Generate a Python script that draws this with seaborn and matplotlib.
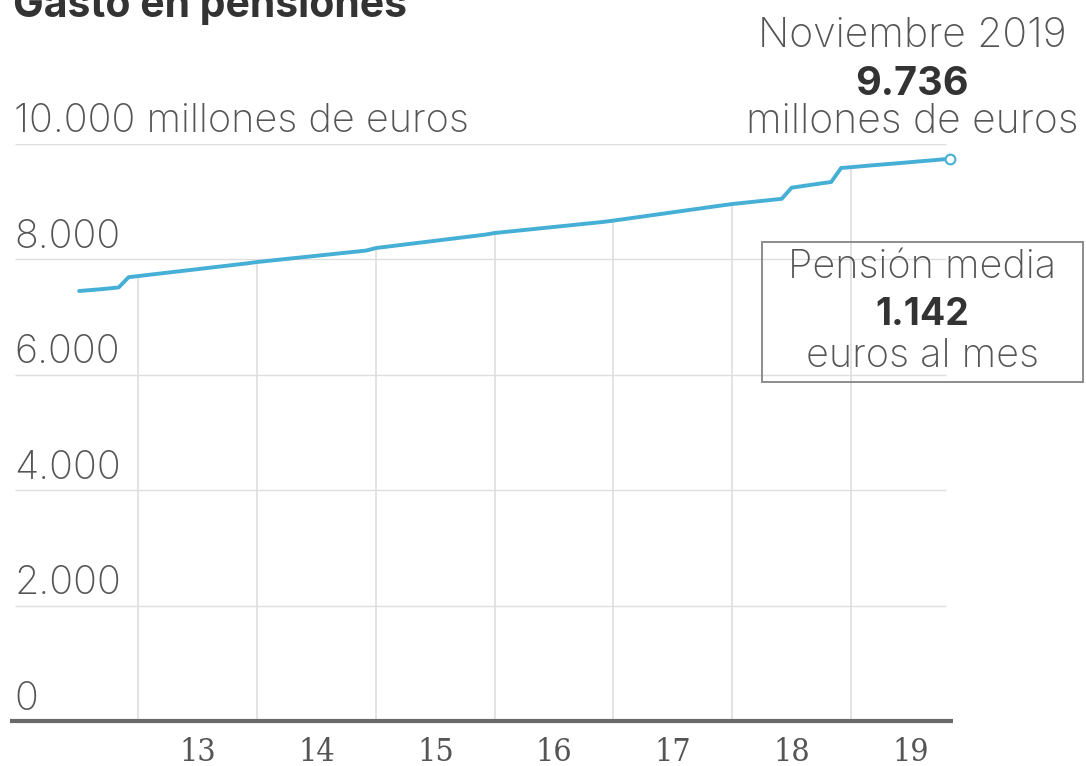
import matplotlib
matplotlib.use("Agg")
import matplotlib.pyplot as plt
import matplotlib.transforms as mtransforms
import seaborn as sns
import pandas as pd

# ---- data (millones de euros, nómina mensual) ----
start_year = 2012
start_month = 7
gasto_2012 = [7446, 7460, 7474, 7490, 7508, 7685]
gasto_2013 = [7705, 7725, 7745, 7765, 7785, 7805, 7825, 7845, 7865, 7885, 7905, 7925]
gasto_2014 = [7948, 7966, 7984, 8002, 8020, 8038, 8056, 8074, 8092, 8110, 8128, 8146]
gasto_2015 = [8190, 8211, 8232, 8253, 8274, 8295, 8316, 8337, 8358, 8379, 8400, 8421]
gasto_2016 = [8450, 8468, 8485, 8503, 8520, 8538, 8555, 8573, 8590, 8608, 8625, 8643]
gasto_2017 = [8665, 8689, 8713, 8737, 8761, 8785, 8809, 8833, 8857, 8881, 8905, 8929]
gasto_2018 = [8952, 8970, 8988, 9006, 9024, 9042, 9235, 9260, 9285, 9310, 9333, 9576]
gasto_2019 = [9590, 9605, 9620, 9634, 9648, 9662, 9677, 9692, 9706, 9721, 9736]
year_series = [gasto_2012, gasto_2013, gasto_2014, gasto_2015,
               gasto_2016, gasto_2017, gasto_2018, gasto_2019]

y_ticks = [0, 2000, 4000, 6000, 8000, 10000]
y_labels = ["0", "2.000", "4.000", "6.000", "8.000", "10.000 millones de euros"]
x_years = [2013, 2014, 2015, 2016, 2017, 2018, 2019]
x_labels = ["13", "14", "15", "16", "17", "18", "19"]

title = "Gasto en pensiones"
ann_date = "Noviembre 2019"
ann_value = "9.736"
ann_unit = "millones de euros"
box_title = "Pensión media"
box_value = "1.142"
box_unit = "euros al mes"

# ---- build frame ----
rows = []
for i, vals in enumerate(year_series):
    yr = start_year + i
    m0 = start_month if i == 0 else 1
    for j, v in enumerate(vals):
        m = m0 + j
        rows.append({"year": yr, "month": m, "x": yr + (m - 1) / 12.0, "gasto": v})
df = pd.DataFrame(rows)

# ---- style ----
sns.set_theme(style="white")
plt.rcParams["font.family"] = ["Inter", "DejaVu Sans"]

W, H = 1086, 766
fig = plt.figure(figsize=(W / 100, H / 100), dpi=100)
fig.patch.set_facecolor("white")

def fx(px):
    return px / W

def fy(py):
    return 1 - py / H

ax_left, ax_right, ax_top, ax_bottom = 10, 953, 143.5, 721
ax = fig.add_axes([fx(ax_left), fy(ax_bottom), (ax_right - ax_left) / W, (ax_bottom - ax_top) / H])
ax.set_xlim(2011.918, 2019.859)
ax.set_ylim(0, 10000)
for s in ax.spines.values():
    s.set_visible(False)
ax.set_xticks([])
ax.set_yticks([])
ax.set_facecolor("none")

grid_c = "#dedede"
text_c = "#555555"
dark_c = "#333333"
line_c = "#45afd6"

# horizontal gridlines
xmin_grid = 2011.918 + 5 / 118.75
for t in y_ticks[1:]:
    ax.hlines(t, xmin_grid, 2019.80, color=grid_c, lw=1.0, zorder=1)

# vertical drop lines at each January
for yr in x_years:
    jan = df[(df.year == yr) & (df.month == 1)]
    if len(jan):
        ax.vlines(yr, 0, jan.gasto.iloc[0], color=grid_c, lw=1.2, zorder=1)

# baseline
ax.hlines(0, 2011.918, 2019.859, color="#6a6a6a", lw=3.0, zorder=3, clip_on=False)

# line
sns.lineplot(data=df, x="x", y="gasto", ax=ax, color=line_c, lw=2.8, zorder=4,
             legend=False)
last = df.iloc[-1]
ax.plot([last.x], [last.gasto], marker="o", ms=7, mfc="white", mec=line_c, mew=1.5,
        zorder=5, clip_on=False)
ax.set_xlabel("")
ax.set_ylabel("")

# y labels above gridlines
trans = mtransforms.blended_transform_factory(fig.transFigure, ax.transData)
off = mtransforms.offset_copy(trans, fig=fig, x=0, y=8, units="points")
for t, lab in zip(y_ticks, y_labels):
    ax.text(fx(14), t, lab, transform=off, ha="left", va="baseline",
            fontsize=28.5, fontweight="light", color=text_c, clip_on=False)

# x labels centred in each year
transx = mtransforms.blended_transform_factory(ax.transData, fig.transFigure)
for yr, lab in zip(x_years, x_labels):
    ax.text(yr + 0.5, fy(761), lab, transform=transx, ha="center", va="baseline",
            fontsize=23, color=text_c, family=["DejaVu Serif"], fontstretch="condensed",
            clip_on=False)

# title
fig.text(fx(13), fy(17), title, ha="left", va="baseline", fontsize=29.5,
         fontweight="bold", color=dark_c)

# right annotation
cx = fx(912)
fig.text(cx, fy(47), ann_date, ha="center", va="baseline", fontsize=29.5,
         fontweight="light", color=text_c)
fig.text(cx, fy(95), ann_value, ha="center", va="baseline", fontsize=28.5,
         fontweight="bold", color=dark_c)
fig.text(cx, fy(133), ann_unit, ha="center", va="baseline", fontsize=29.5,
         fontweight="light", color=text_c)

# box
bx0, by0, bx1, by1 = 762, 242, 1083, 382
rect = plt.Rectangle((fx(bx0), fy(by1)), (bx1 - bx0) / W, (by1 - by0) / H,
                     transform=fig.transFigure, fill=False, ec="#8c8c8c", lw=1.4)
fig.patches.append(rect)
cb = fx(922)
fig.text(cb, fy(278), box_title, ha="center", va="baseline", fontsize=28.5,
         fontweight="light", color=text_c)
fig.text(cb, fy(325), box_value, ha="center", va="baseline", fontsize=27,
         fontweight="bold", color=dark_c)
fig.text(cb, fy(367), box_unit, ha="center", va="baseline", fontsize=28.5,
         fontweight="light", color=text_c)

fig.savefig("out.png", dpi=100, facecolor="white")
